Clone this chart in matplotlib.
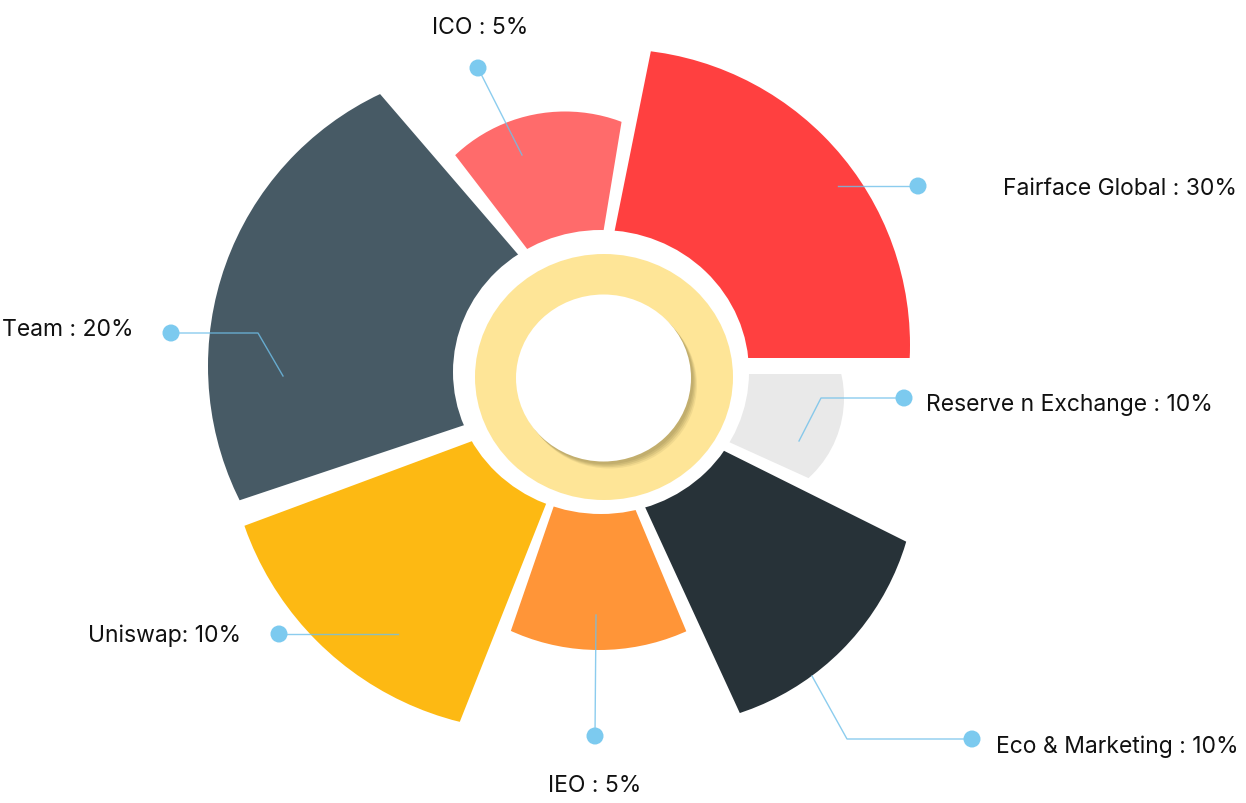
import matplotlib.pyplot as plt
from matplotlib.patches import Wedge, Circle, Ellipse

W, H = 1246, 804

# data
names = ["Fairface Global", "ICO", "Team", "Uniswap", "IEO",
         "Eco & Marketing", "Reserve n Exchange"]
shares = [30, 5, 20, 10, 5, 10, 10]

# slice layout (pixel coords, y down; angles in degrees, counter-clockwise)
colors = ["#ff4040", "#ff6b6b", "#475a65", "#fdb913", "#ff9538", "#273238", "#e9e9e9"]
theta = [(0, 78.6), (80.6, 127.5), (130.7, 198.5), (200.4, 248.4),
         (251.0, 292.7), (294.7, 333.5), (335.6, 360)]
apex = [(589, 359), (587.5, 328.6), (620, 374), (588, 399),
        (590, 402), (588, 384), (579, 375)]
arc_center = [(614, 346), (565, 272.5), (509, 367), (534, 425),
              (599, 438), (659, 469), (736, 399)]
arc_radius = [296, 160, 301, 307, 213, 258, 108]

# label layout
text_pos = [(1003, 195), (480, 34), (2, 336), (241, 642), (595, 792), (996, 753), (926, 411)]
text_ha = ["left", "center", "left", "right", "center", "left", "left"]
leaders = [
    [(838, 187), (918, 187)],
    [(522, 156), (478, 69)],
    [(283, 377), (258, 334), (171, 334)],
    [(398, 635), (279, 635)],
    [(596, 616), (595, 737)],
    [(812, 677), (847, 740), (972, 740)],
    [(799, 442), (821, 399), (904, 399)],
]

CENTER = (601, 373)
DOT = "#7ccaef"
LINE = "#6fc0ea"

fig = plt.figure(figsize=(W / 100, H / 100), dpi=100)
ax = fig.add_axes([0, 0, 1, 1])
ax.set_xlim(0, W)
ax.set_ylim(H, 0)
ax.axis("off")

for i in range(len(names)):
    t1, t2 = theta[i]
    # image y points down, so angles are mirrored
    clip = Wedge(apex[i], 2000, -t2, -t1, transform=ax.transData)
    body = Circle(arc_center[i], arc_radius[i], color=colors[i], lw=0, zorder=1)
    ax.add_patch(body)
    body.set_clip_path(clip)

# white gap around the centre
ax.add_patch(Ellipse(CENTER, 296, 284, color="white", lw=0, zorder=2))

# yellow ring with shadowed white core
ax.add_patch(Ellipse((604, 378), 258, 246, color="#fee597", lw=0, zorder=3))
for k, a in zip([10, 8, 6, 4], [0.3, 0.45, 0.6, 0.8]):
    ax.add_patch(Ellipse((603.5 + k * 0.6, 379 + k * 0.7), 175, 167,
                         color="#b4a264", alpha=a * 0.6, lw=0, zorder=4))
ax.add_patch(Ellipse((603.5, 379), 175, 167, color="white", lw=0, zorder=5))

for i, name in enumerate(names):
    pts = leaders[i]
    xs = [p[0] for p in pts]
    ys = [p[1] for p in pts]
    ax.plot(xs, ys, color=LINE, lw=1, alpha=0.8, zorder=6)
    ax.add_patch(Circle(pts[-1], 8.5, color=DOT, lw=0, zorder=7))
    sep = ": " if name == "Uniswap" else " : "
    ax.text(text_pos[i][0], text_pos[i][1], f"{name}{sep}{shares[i]}%",
            ha=text_ha[i], va="baseline", fontsize=16.5, color="#111111",
            family="Inter", zorder=8)

fig.savefig("out.png", dpi=100, facecolor="white")
